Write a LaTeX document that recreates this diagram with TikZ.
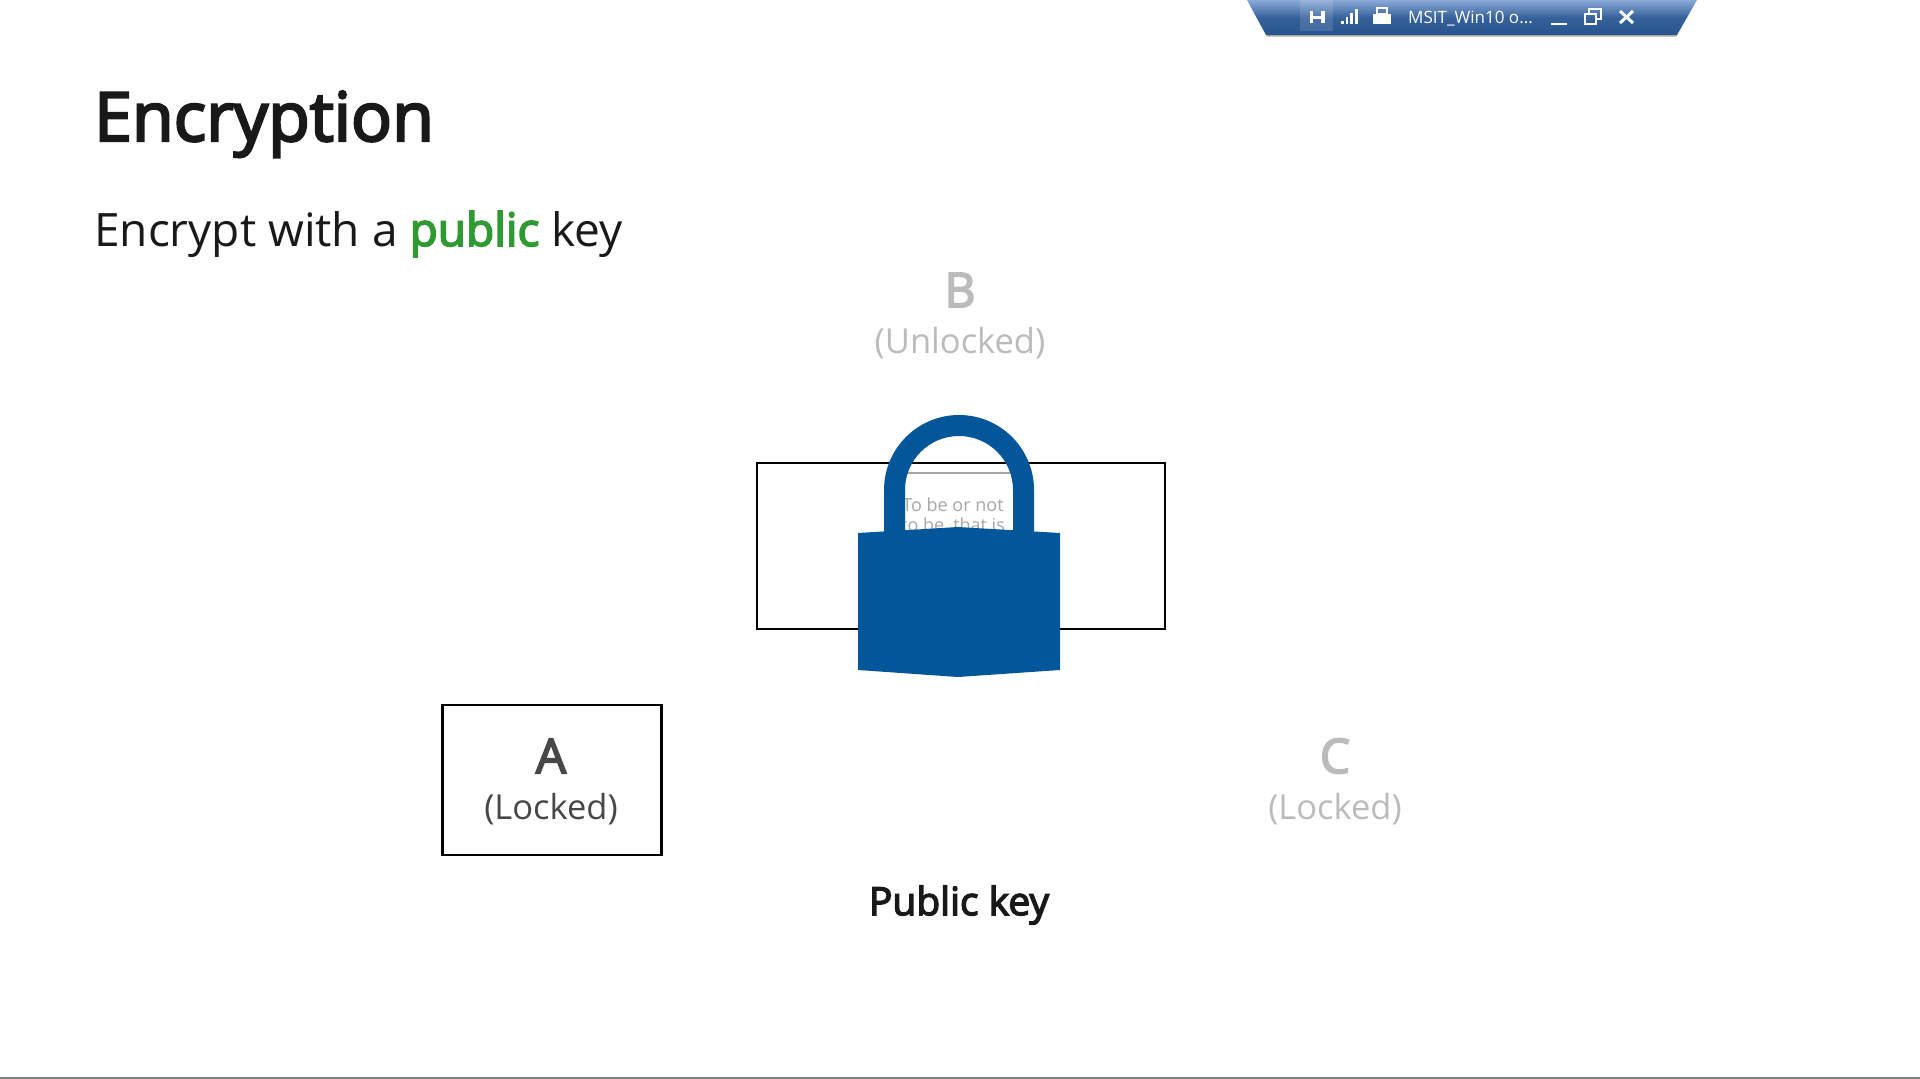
\documentclass[tikz,border=0pt]{standalone}
\usepackage{fontspec}
\setmainfont{Open Sans}
\newfontfamily\semib[FakeBold=3.5]{Open Sans}
\usetikzlibrary{positioning}
\definecolor{lockblue}{HTML}{025699}
\definecolor{keygreen}{HTML}{2F9A31}
\definecolor{fadegray}{HTML}{BBBBBB}
\definecolor{bartop}{HTML}{8AAAD8}
\definecolor{barlow}{HTML}{27548F}
\newcommand{\fs}[1]{\fontsize{#1}{#1}\selectfont}

\begin{document}
\begin{tikzpicture}[x=1pt,y=-1pt]

\tikzstyle head=[anchor=base west, inner sep=0, text=black!90]
\tikzstyle party=[align=center, inner sep=0, font=\fs{34.5}, text=black!72]
\tikzstyle faded=[party, text=fadegray]
\tikzstyle frame=[draw=black, line width=2.4pt, fill=none, inner sep=0]
\tikzstyle bartext=[anchor=west, inner sep=0, text=white, font=\fs{17}]
\tikzstyle baricon=[white, line width=2pt]

\useasboundingbox (0,0) rectangle (1920,1079);
\draw [black!50, line width=1.5pt] (0,1078.2) -- (1920,1078.2);

% connection bar
\shade [top color=bartop, bottom color=barlow, middle color=barlow!85!bartop] (1247,0) -- (1697,0) -- (1677,35) -- (1266,35) -- cycle;
\fill [black!35] (1266,35) -- (1677,35) -- (1676.4,36.5) -- (1266.8,36.5) -- cycle;
\fill [white, opacity=.12] (1300,0) rectangle (1333,31);
\draw [baricon, line width=3pt] (1310,17) -- (1324,17);
\draw [baricon, line width=3pt] (1311,11) -- (1311,23);
\draw [baricon, line width=4pt] (1323,11) -- (1323,23);
\foreach \i/\h in {0/3,1/7,2/11,3/15}
  \fill [white] (1341+\i*4.6,24-\h) rectangle ++(2.8,\h);
\fill [white] (1373,14) rectangle (1391,24);
\draw [white, line width=1.5pt] (1377,14) rectangle (1387,8);
\node (bartitle) [bartext] at (1408,19) {MSIT\_Win10 o...};
\draw [baricon, line width=2.5pt] (1551,24) -- (1567,24);
\draw [white, line width=1.6pt] (1585,14) rectangle (1596,24);
\draw [white, line width=1.6pt] (1589,14) -- (1589,9) -- (1601,9) -- (1601,19) -- (1596,19);
\draw [baricon, line width=3pt] (1620,11) -- (1633,23);
\draw [baricon, line width=3pt] (1633,11) -- (1620,23);

% headings
\node (title) [head, font=\fs{68}\semib] at (94,141) {Encryption};
\node (sub) [head, font=\fs{46}] at (94,246) {Encrypt with a \textcolor{keygreen}{\semib public} key};

% message
\node (msg) [frame, minimum width=408pt, minimum height=166pt] at (961,546) {};
\draw [black!35, line width=2pt] (905,473) -- (1010,473);
\node (line1) [anchor=base, inner sep=0, text=black!35, font=\fs{18}] at (953,511) {To be or not};
\node (line2) [anchor=base, inner sep=0, text=black!35, font=\fs{18}] at (953,531) {to be, that is};

% lock
\fill [lockblue] (884,540) -- (884,490) arc [start angle=180, end angle=360, radius=75] -- (1034,540) -- (1013,540) -- (1013,490) arc [start angle=360, end angle=180, radius=54] -- (905,540) -- cycle;
\fill [lockblue] (858,533) -- (958,527) -- (1060,533) -- (1060,670) -- (958,677) -- (858,670) -- cycle;

% parties
\node (boxa) [frame, minimum width=219pt, minimum height=150pt] at (552,780) {};
\node (a) [party, font=\fs{48}\semib] at (551,756) {A};
\node (al) [party, below=19.5pt of a] {(Locked)};
\node (b) [faded, font=\fs{48}\semib] at (960,290) {B};
\node (bl) [faded, below=20pt of b] {(Unlocked)};
\node (c) [faded, font=\fs{48}\semib] at (1335,756) {C};
\node (cl) [faded, below=19pt of c] {(Locked)};
\node (key) [inner sep=0, text=black!90, font=\fs{39}\semib] at (959,905) {Public key};

\end{tikzpicture}
\end{document}
